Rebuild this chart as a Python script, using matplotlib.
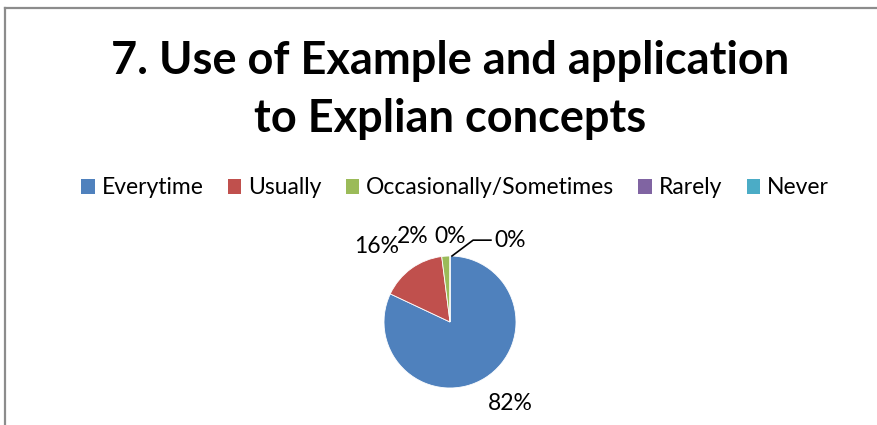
import numpy as np
import matplotlib
matplotlib.use("Agg")
import matplotlib.pyplot as plt
from matplotlib.lines import Line2D
from matplotlib.patches import Patch

# chart data
categories = ["Everytime", "Usually", "Occasionally/Sometimes", "Rarely", "Never"]
percentages = [82, 16, 2, 0, 0]
colors = ["#4F81BD", "#C0504D", "#9BBB59", "#8064A2", "#4BACC6"]
title = "7. Use of Example and application\nto Explian concepts"

# label offsets in radius units (x, y) relative to pie centre
label_pos = [(0.91, -1.23), (-1.11, 1.14), (-0.56, 1.29), (0.0, 1.29), (0.91, 1.24)]

W, H = 878, 425
fig = plt.figure(figsize=(W / 100, H / 100), dpi=100)
fig.patch.set_facecolor("white")

font = "Lato"

# outer chart border (top and left edges visible)
fig.add_artist(Line2D([5 / W, 1], [1 - 8 / H, 1 - 8 / H], color="#8c8c8c", lw=1.6, transform=fig.transFigure))
fig.add_artist(Line2D([5 / W, 5 / W], [0, 1 - 8 / H], color="#8c8c8c", lw=1.6, transform=fig.transFigure))

fig.text(450 / W, 1 - 90 / H, title, ha="center", va="center", fontsize=32.5,
         fontweight="bold", family=font, linespacing=1.5)

# pie axes: centre (450, 322) px, radius 66 px
size = 200
cx, cy, r = 450, 322, 66
ax = fig.add_axes([(cx - size / 2) / W, (H - cy - size / 2) / H, size / W, size / H])

wedges, _ = ax.pie(percentages, colors=colors, startangle=90, counterclock=False,
                   radius=1, wedgeprops=dict(linewidth=0.6, edgecolor="white"))
lim = size / 2 / r
ax.set_xlim(-lim, lim)
ax.set_ylim(-lim, lim)
ax.set_aspect("equal")
ax.axis("off")

for i, (p, pos) in enumerate(zip(percentages, label_pos)):
    ax.text(pos[0], pos[1], f"{p}%", ha="center", va="center", fontsize=16.5,
            family=font, color="black", clip_on=False)

# leader line for the last zero slice
ax.plot([0.03, 0.35, 0.62], [1.0, 1.24, 1.24], color="black", lw=1.2, clip_on=False)

handles = [Patch(facecolor=c, edgecolor="none") for c in colors]
leg = fig.legend(handles, categories, loc="center", bbox_to_anchor=(455 / W, 1 - 188 / H),
                 ncol=5, frameon=False, prop=dict(family=font, size=16.5),
                 handlelength=0.6, handleheight=0.6, handletextpad=0.3,
                 columnspacing=1.05)

fig.savefig("out.png", dpi=100)
